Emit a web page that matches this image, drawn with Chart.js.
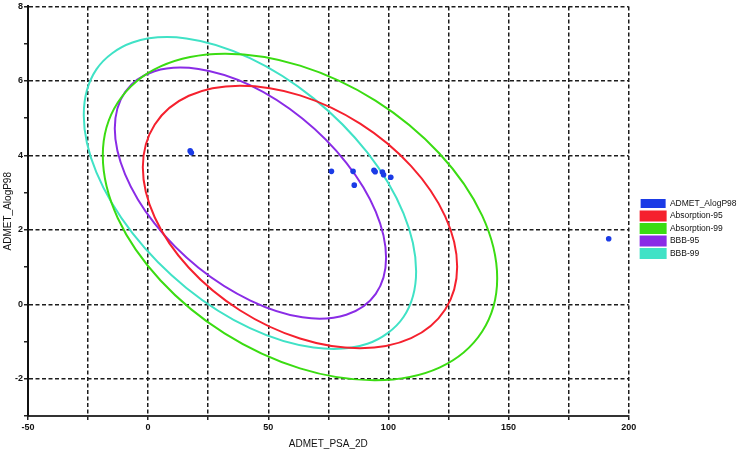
<!DOCTYPE html>
<html>
<head>
<meta charset="utf-8">
<script src="https://cdn.jsdelivr.net/npm/chart.js@4.4.1/dist/chart.umd.min.js"></script>
<style>
  html, body { margin: 0; padding: 0; background: #fff; }
  #wrap { width: 738px; height: 452px; }
</style>
</head>
<body>
<div id="wrap"><canvas id="chart" width="738" height="452"></canvas></div>
<script>
// compounds
const psaValues   = [76.3, 85.3, 85.8, 94.0, 94.5, 97.5, 98.0, 101.0, 17.5, 18.0, 191.7];
const alogpValues = [3.57, 3.57, 3.20, 3.60, 3.56, 3.55, 3.48, 3.41, 4.12, 4.07, 1.76];

// points round each ellipse (PSA, AlogP)
const abs95X = [128.63, 123.65, 109.47, 88.25, 63.21, 38.17, 16.95, 2.77, -2.21, 2.77, 16.95, 38.17, 63.21, 88.25, 109.47, 123.65];
const abs95Y = [1.01, -0.14, -0.91, -1.18, -0.92, -0.16, 0.98, 2.33, 3.68, 4.83, 5.60, 5.87, 5.61, 4.85, 3.71, 2.36];

const abs99X = [145.29, 139.04, 121.25, 94.62, 63.21, 31.80, 5.17, -12.62, -18.87, -12.62, 5.17, 31.80, 63.21, 94.62, 121.25, 139.04];
const abs99Y = [0.70, -0.73, -1.70, -2.04, -1.72, -0.78, 0.64, 2.31, 4.00, 5.42, 6.39, 6.73, 6.41, 5.47, 4.05, 2.38];

const bbb95X = [99.04, 94.74, 82.50, 64.19, 42.58, 20.97, 2.66, -9.58, -13.88, -9.58, 2.66, 20.97, 42.58, 64.19, 82.50, 94.74];
const bbb95Y = [1.25, 0.28, -0.28, -0.35, 0.10, 0.98, 2.17, 3.49, 4.72, 5.70, 6.26, 6.32, 5.88, 4.99, 3.80, 2.49];

const bbb99X = [111.55, 106.29, 91.29, 68.85, 42.38, 15.91, -6.53, -21.53, -26.79, -21.53, -6.53, 15.91, 42.38, 68.85, 91.29, 106.29];
const bbb99Y = [0.89, -0.34, -1.06, -1.16, -0.64, 0.44, 1.91, 3.54, 5.08, 6.31, 7.03, 7.14, 6.61, 5.53, 4.07, 2.44];

const xTicks = [-50, -25, 0, 25, 50, 75, 100, 125, 150, 175, 200];
const yTicks = [-3, -2, -1, 0, 1, 2, 3, 4, 5, 6, 7, 8];

const seriesNames = ['ADMET_AlogP98', 'Absorption-95', 'Absorption-99', 'BBB-95', 'BBB-99'];

function toPoints(xs, ys) {
  return xs.map((x, i) => ({ x, y: ys[i] }));
}

// wrap the outline so every drawn segment has neighbours on both ends;
// the two helper segments at the ends are left invisible
function closedLoop(xs, ys) {
  const pts = toPoints(xs, ys);
  return [pts[pts.length - 1]].concat(pts, [pts[0], pts[1]]);
}

function ellipse(label, xs, ys, color) {
  const data = closedLoop(xs, ys);
  const last = data.length - 1;
  return {
    label,
    data,
    showLine: true,
    borderColor: color,
    backgroundColor: color,
    borderWidth: 2,
    pointRadius: 0,
    pointHoverRadius: 0,
    tension: 0.34,
    fill: false,
    segment: {
      borderColor: (ctx) => (ctx.p0DataIndex === 0 || ctx.p1DataIndex === last ? 'rgba(0,0,0,0)' : undefined)
    }
  };
}

// put the legend where the original has it
const legendPlace = {
  id: 'legendPlace',
  afterLayout(chart) {
    if (chart.legend) chart.legend.left = chart.chartArea.right + 8.5;
  }
};

const tickFont = { family: 'Liberation Sans', size: 9, weight: 'bold' };
const gridColor = '#1c1c1c';

new Chart(document.getElementById('chart'), {
  type: 'scatter',
  data: {
    datasets: [
      {
        label: seriesNames[0],
        data: toPoints(psaValues, alogpValues),
        backgroundColor: '#1b3be6',
        borderColor: '#1b3be6',
        borderWidth: 0,
        pointRadius: 2.8
      },
      ellipse(seriesNames[1], abs95X, abs95Y, '#f5212e'),
      ellipse(seriesNames[2], abs99X, abs99Y, '#3bdc12'),
      ellipse(seriesNames[3], bbb95X, bbb95Y, '#8a2ce6'),
      ellipse(seriesNames[4], bbb99X, bbb99Y, '#40e2c6')
    ]
  },
  plugins: [legendPlace],
  options: {
    responsive: false,
    animation: false,
    layout: { padding: { top: 5, right: 0, bottom: 0, left: 0 } },
    plugins: {
      tooltip: { enabled: false },
      legend: {
        position: 'right',
        maxWidth: 110,
        labels: {
          boxWidth: 25,
          boxHeight: 9,
          padding: 3.5,
          color: '#111',
          font: { family: 'Liberation Sans', size: 8.5 }
        }
      }
    },
    scales: {
      x: {
        type: 'linear',
        min: -50,
        max: 200,
        afterBuildTicks: (scale) => { scale.ticks = xTicks.map(v => ({ value: v })); },
        afterFit: (scale) => { scale.height = 36; },
        grid: { color: gridColor, lineWidth: 1.5, tickLength: 4, tickColor: '#222' },
        border: { display: true, color: '#333', width: 2, dash: [4, 2.5] },
        ticks: {
          color: '#111',
          font: tickFont,
          padding: 2,
          maxRotation: 0,
          autoSkip: false,
          callback: (v) => (v % 50 === 0 ? String(v) : '')
        },
        title: {
          display: true,
          text: 'ADMET_PSA_2D',
          color: '#111',
          font: { family: 'Liberation Sans', size: 10 },
          padding: { top: 0, bottom: 2 }
        }
      },
      y: {
        type: 'linear',
        min: -3,
        max: 8,
        afterBuildTicks: (scale) => { scale.ticks = yTicks.map(v => ({ value: v })); },
        afterFit: (scale) => { scale.width = 28; },
        grid: {
          color: (ctx) => (ctx.tick && ctx.tick.value % 2 === 0 ? gridColor : 'rgba(0,0,0,0)'),
          lineWidth: 1.5,
          tickLength: 4,
          tickColor: '#222'
        },
        border: { display: true, color: '#111', width: 2, dash: [4, 2.5] },
        ticks: {
          color: '#111',
          font: tickFont,
          padding: 1,
          autoSkip: false,
          callback: (v) => (v % 2 === 0 ? String(v) : '')
        },
        title: {
          display: true,
          text: 'ADMET_AlogP98',
          color: '#111',
          font: { family: 'Liberation Sans', size: 10 },
          padding: { top: 2, bottom: 0 }
        }
      }
    }
  }
});
</script>
</body>
</html>
